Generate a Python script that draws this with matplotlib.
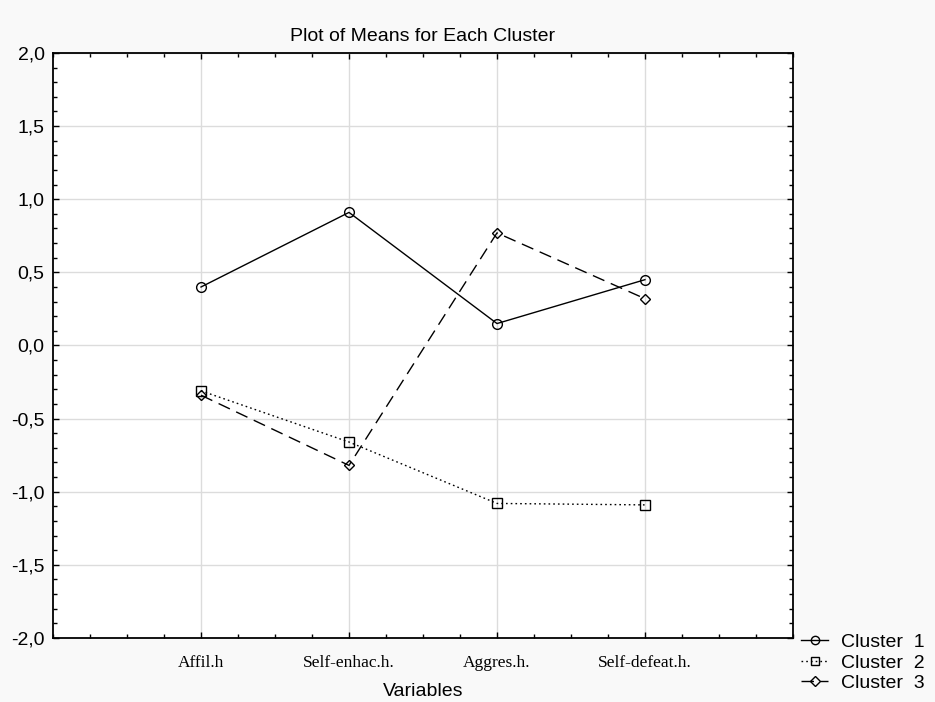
import numpy as np
import matplotlib.pyplot as plt
from matplotlib.ticker import FuncFormatter, MultipleLocator, FixedLocator

# Cluster means per variable
variables = ['Affil.h', 'Self-enhac.h.', 'Aggres.h.', 'Self-defeat.h.']
cluster_1 = [0.40, 0.91, 0.15, 0.45]
cluster_2 = [-0.31, -0.66, -1.08, -1.09]
cluster_3 = [-0.34, -0.82, 0.77, 0.32]
cluster_names = ['Cluster  1', 'Cluster  2', 'Cluster  3']

plt.rcParams['font.family'] = ['Liberation Sans', 'DejaVu Sans']

fig = plt.figure(figsize=(9.35, 7.02), dpi=100, facecolor='#f9f9f9')
ax = fig.add_axes([0.0567, 0.0912, 0.7914, 0.8333])
ax.set_facecolor('white')

x = np.arange(1, len(variables) + 1)

styles = [
    dict(marker='o', linestyle='-'),
    dict(marker='s', linestyle=(0, (1.2, 2.2))),
    dict(marker='D', linestyle=(0, (9, 5)), markersize=5.5),
]
series = [cluster_1, cluster_2, cluster_3]

for vals, name, st in zip(series, cluster_names, styles):
    kw = dict(color='black', linewidth=1.0, markersize=7, markerfacecolor='none',
              markeredgecolor='black', markeredgewidth=1.0)
    kw.update(st)
    ax.plot(x, vals, label=name, **kw)

ax.set_xlim(0, 5)
ax.set_ylim(-2, 2)
ax.xaxis.set_major_locator(FixedLocator(x))
ax.set_xticklabels(variables, family=['Liberation Serif', 'DejaVu Serif'], fontsize=12.5)
ax.xaxis.set_minor_locator(MultipleLocator(0.25))
ax.yaxis.set_major_locator(MultipleLocator(0.5))
ax.yaxis.set_minor_locator(MultipleLocator(0.1))
ax.yaxis.set_major_formatter(FuncFormatter(lambda v, p: f'{v:.1f}'.replace('.', ',')))

ax.tick_params(axis='both', which='both', direction='in', top=True, right=True,
               color='black')
ax.tick_params(axis='both', which='major', length=4, width=1)
ax.tick_params(axis='both', which='minor', length=3, width=1)
ax.tick_params(axis='y', which='major', labelsize=14, pad=6)
ax.tick_params(axis='x', which='major', pad=12)

for sp in ax.spines.values():
    sp.set_linewidth(1.3)
    sp.set_color('black')

ax.grid(True, which='major', color='#dcdcdc', linewidth=1.0)
ax.set_axisbelow(True)

ax.set_title('Plot of Means for Each Cluster', fontsize=14, pad=9)
ax.set_xlabel('Variables', fontsize=14, labelpad=9)

leg_handles = []
for st, name in zip(styles, cluster_names):
    h, = ax.plot([], [], color='black', linewidth=1.0,
                 markersize=6 if st['marker'] != 'D' else 5,
                 markerfacecolor='none', markeredgecolor='black',
                 marker=st['marker'], linestyle=st['linestyle'], label=name)
    leg_handles.append(h)

fig.legend(handles=leg_handles, loc='upper left', bbox_to_anchor=(0.8567, 0.098),
           frameon=False, fontsize=14, handlelength=1.4, handletextpad=0.65,
           labelspacing=0.16, borderaxespad=0, borderpad=0)

fig.savefig('out.png', dpi=100, facecolor=fig.get_facecolor())
